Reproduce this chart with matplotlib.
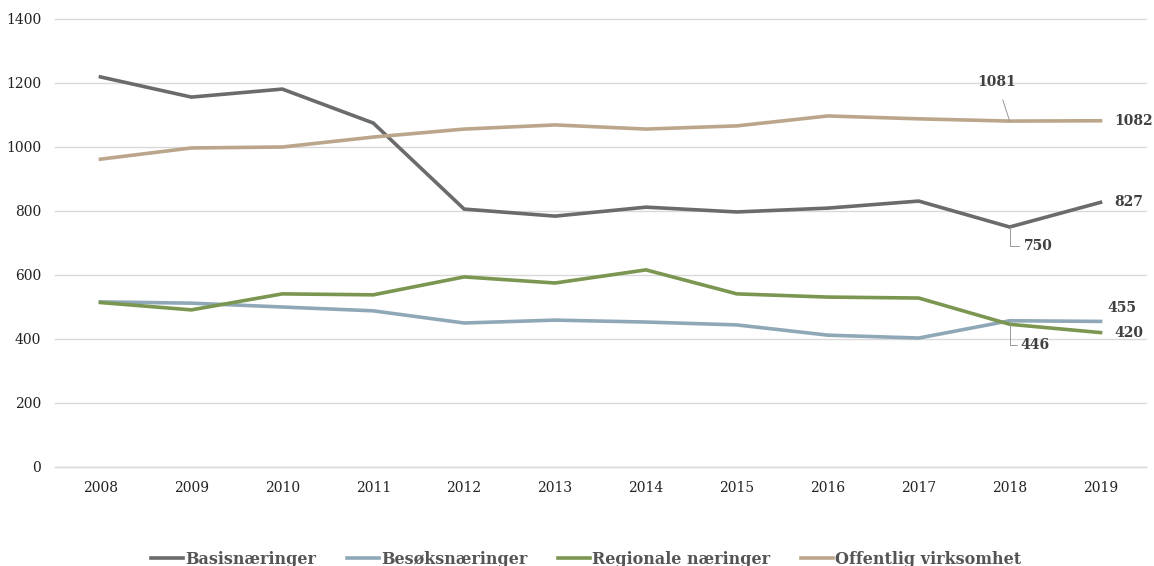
import matplotlib.pyplot as plt

years = [2008, 2009, 2010, 2011, 2012, 2013, 2014, 2015, 2016, 2017, 2018, 2019]
basis = [1219, 1156, 1181, 1075, 806, 784, 812, 797, 809, 831, 750, 827]
besok = [516, 512, 500, 488, 450, 459, 453, 444, 412, 403, 457, 455]
regional = [514, 491, 541, 538, 594, 575, 616, 541, 531, 528, 446, 420]
offentlig = [962, 997, 1000, 1031, 1056, 1069, 1056, 1066, 1097, 1088, 1081, 1082]

names = ["Basisnæringer", "Besøksnæringer", "Regionale næringer", "Offentlig virksomhet"]
colors = ["#6b6b6d", "#8fa8b8", "#7a9650", "#bba68b"]

plt.rcParams["font.family"] = ["DejaVu Serif"]

fig = plt.figure(figsize=(11.54, 5.66), dpi=100)
ax = fig.add_axes([55 / 1154, 99 / 566, 1091 / 1154, 448 / 566])

x = list(range(len(years)))
series = [basis, besok, regional, offentlig]
for s, n, c in zip(series, names, colors):
    ax.plot(x, s, color=c, lw=2.6, label=n, solid_joinstyle="miter")

ax.set_xlim(-0.5, len(years) - 0.5)
ax.set_ylim(0, 1400)
ax.set_yticks(range(0, 1401, 200))
ax.set_xticks(x)
ax.set_xticklabels([str(y) for y in years])
ax.tick_params(length=0, labelsize=10, colors="#222222")
ax.tick_params(axis="y", pad=10)
ax.tick_params(axis="x", pad=10)
ax.grid(axis="y", color="#d9d9d9", lw=1, clip_on=False)
ax.set_axisbelow(True)
for sp in ax.spines.values():
    sp.set_visible(False)
ax.axhline(0, color="#d9d9d9", lw=1, clip_on=False, zorder=0)

lab = dict(fontsize=10, fontweight="bold", color="#404040")
last = len(years) - 1
# end-of-line values
ax.annotate(str(offentlig[-1]), (last, offentlig[-1]), xytext=(10, 0),
            textcoords="offset points", va="center", ha="left", **lab)
ax.annotate(str(basis[-1]), (last, basis[-1]), xytext=(10, 0),
            textcoords="offset points", va="center", ha="left", **lab)
ax.annotate(str(besok[-1]), (last, besok[-1]), xytext=(5, 10),
            textcoords="offset points", va="center", ha="left", **lab)
ax.annotate(str(regional[-1]), (last, regional[-1]), xytext=(10, 0),
            textcoords="offset points", va="center", ha="left", **lab)

# 2018 values with leader lines
i = last - 1
ax.annotate(str(offentlig[i]), (i, offentlig[i]), xytext=(-9, 28),
            textcoords="offset points", va="center", ha="center",
            arrowprops=dict(arrowstyle="-", color="#999999", lw=0.7,
                            shrinkA=6, shrinkB=0), **lab)
ax.annotate(str(basis[i]), (i, basis[i]), xytext=(10, -14),
            textcoords="offset points", va="center", ha="left",
            arrowprops=dict(arrowstyle="-", color="#999999", lw=0.7,
                            connectionstyle="angle,angleA=0,angleB=90,rad=0",
                            shrinkA=1, shrinkB=0), **lab)
ax.annotate(str(regional[i]), (i, regional[i]), xytext=(8, -15),
            textcoords="offset points", va="center", ha="left",
            arrowprops=dict(arrowstyle="-", color="#999999", lw=0.7,
                            connectionstyle="angle,angleA=0,angleB=90,rad=0",
                            shrinkA=1, shrinkB=0), **lab)

fig.legend(loc="center", bbox_to_anchor=(0.508, 7 / 566), ncol=4, frameon=False,
           prop=dict(size=11.5, weight="bold"), labelcolor="#555555",
           handlelength=2.0, handletextpad=0.15, columnspacing=1.9)

fig.savefig("out.png", dpi=100)
